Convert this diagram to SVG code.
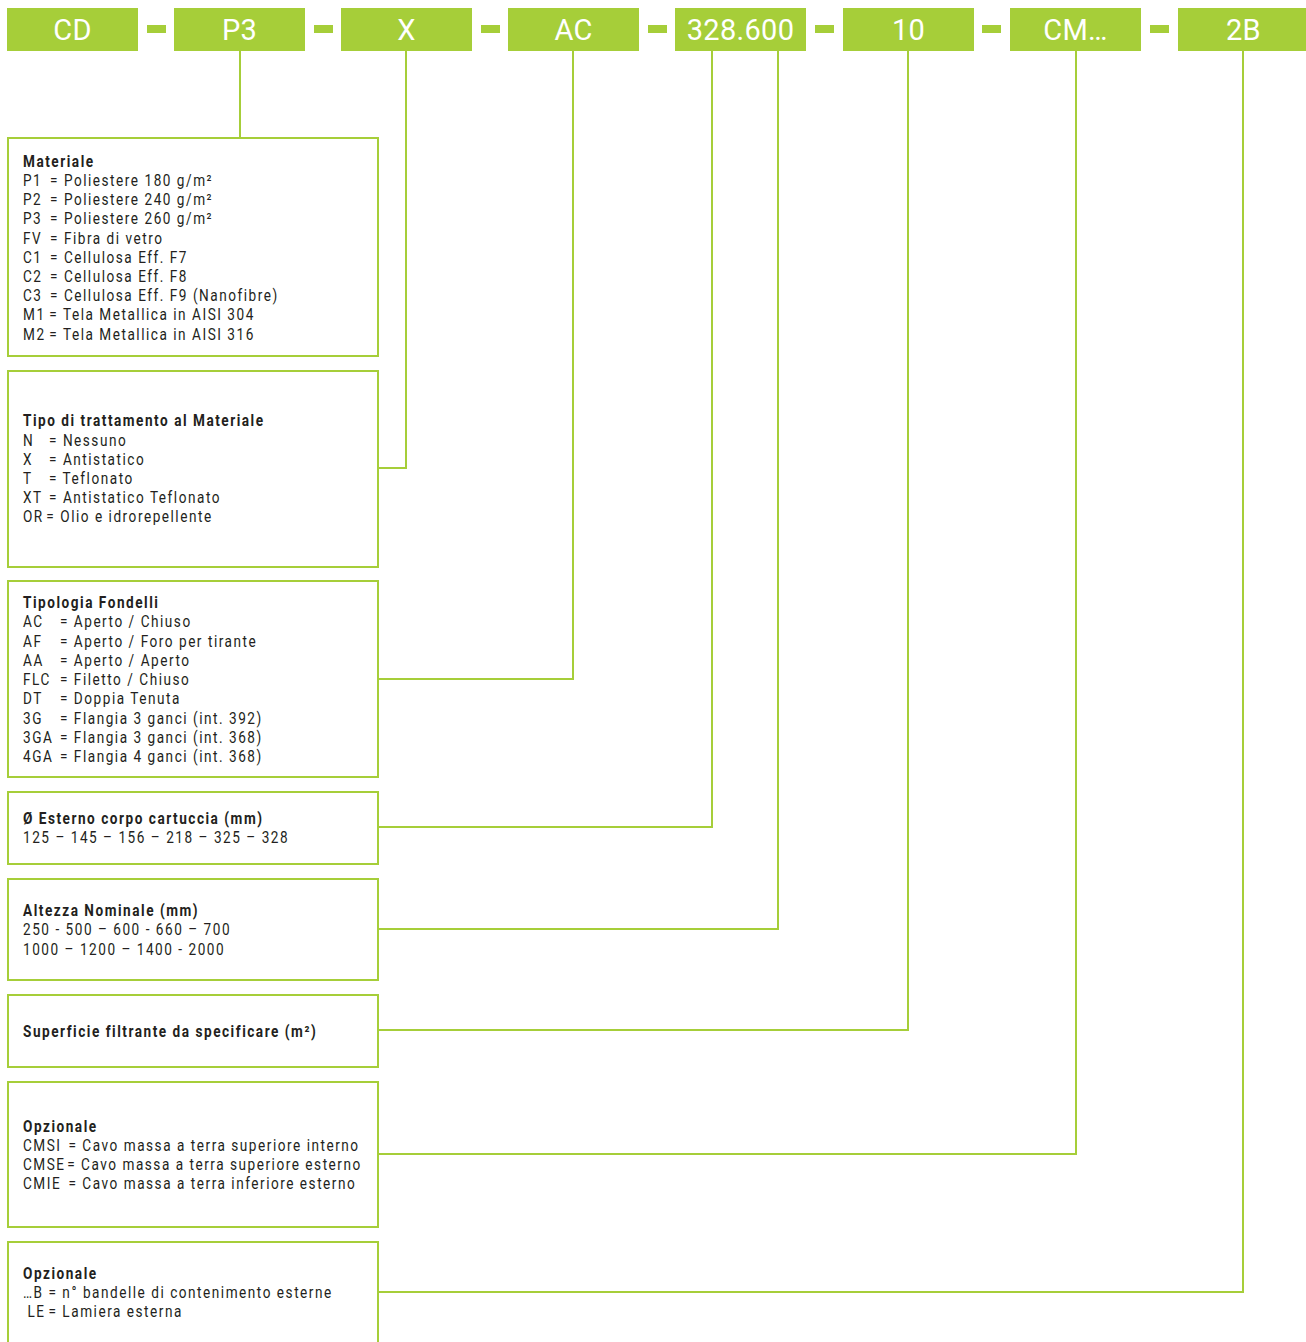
<svg xmlns="http://www.w3.org/2000/svg" width="1306" height="1342" viewBox="0 0 1306 1342">
<style>
.tag{fill:#a6ce39}
.tagt{fill:#fff;font-family:Roboto,"Liberation Sans",sans-serif;font-size:29px;text-anchor:middle;letter-spacing:0.3px}
.box{fill:#fff;stroke:#a6ce39;stroke-width:2}
.c{fill:none;stroke:#a6ce39;stroke-width:2}
.t{fill:#231f20;font-family:Roboto,"Liberation Sans",sans-serif;font-size:16px;letter-spacing:1.8px}
.b{font-weight:bold}
</style>
<rect width="1306" height="1342" fill="#fff"/>
<g id="code">
<g id="tag-cd"><rect class="tag" x="7" y="8" width="131" height="43"/><text class="tagt" x="72.5" y="40">CD</text></g>
<g id="tag-p3"><rect class="tag" x="174" y="8" width="131" height="43"/><text class="tagt" x="239.5" y="40">P3</text></g>
<g id="tag-x"><rect class="tag" x="341" y="8" width="131" height="43"/><text class="tagt" x="406.5" y="40">X</text></g>
<g id="tag-ac"><rect class="tag" x="508" y="8" width="131" height="43"/><text class="tagt" x="573.5" y="40">AC</text></g>
<g id="tag-328"><rect class="tag" x="675" y="8" width="131" height="43"/><text class="tagt" x="740.5" y="40">328.600</text></g>
<g id="tag-10"><rect class="tag" x="843" y="8" width="131" height="43"/><text class="tagt" x="908.5" y="40">10</text></g>
<g id="tag-cm"><rect class="tag" x="1010" y="8" width="131" height="43"/><text class="tagt" x="1075.5" y="40">CM…</text></g>
<g id="tag-2b"><rect class="tag" x="1178" y="8" width="131" height="43"/><text class="tagt" x="1243.5" y="40">2B</text></g>
<g id="dashes">
<rect class="tag" x="147" y="25" width="19" height="8"/>
<rect class="tag" x="314" y="25" width="19" height="8"/>
<rect class="tag" x="481" y="25" width="19" height="8"/>
<rect class="tag" x="648" y="25" width="19" height="8"/>
<rect class="tag" x="815" y="25" width="19" height="8"/>
<rect class="tag" x="982" y="25" width="19" height="8"/>
<rect class="tag" x="1150" y="25" width="19" height="8"/>
</g>
</g>
<g id="connectors">
<path class="c" d="M240 51V138"/>
<path class="c" d="M406 51V468H378"/>
<path class="c" d="M573 51V679H378"/>
<path class="c" d="M712 51V827H378"/>
<path class="c" d="M778 51V929H378"/>
<path class="c" d="M908 51V1030H378"/>
<path class="c" d="M1076 51V1154H378"/>
<path class="c" d="M1243 51V1292H378"/>
</g>
<g id="box-materiale"><rect class="box" x="8" y="138" width="370" height="218"/>
<text class="t" transform="matrix(0.85 0 0 1 3.45 0)">
<tspan class="b" x="23" y="167">Materiale</tspan>
<tspan x="23" y="186">P1</tspan><tspan x="54.8">= Poliestere 180 g/m²</tspan>
<tspan x="23" y="205">P2</tspan><tspan x="54.8">= Poliestere 240 g/m²</tspan>
<tspan x="23" y="224">P3</tspan><tspan x="54.8">= Poliestere 260 g/m²</tspan>
<tspan x="23" y="244">FV</tspan><tspan x="54.8">= Fibra di vetro</tspan>
<tspan x="23" y="263">C1</tspan><tspan x="54.8">= Cellulosa Eff. F7</tspan>
<tspan x="23" y="282">C2</tspan><tspan x="54.8">= Cellulosa Eff. F8</tspan>
<tspan x="23" y="301">C3</tspan><tspan x="54.8">= Cellulosa Eff. F9 (Nanofibre)</tspan>
<tspan x="23" y="320">M1</tspan><tspan x="54">= Tela Metallica in AISI 304</tspan>
<tspan x="23" y="340">M2</tspan><tspan x="54">= Tela Metallica in AISI 316</tspan>
</text></g>
<g id="box-trattamento"><rect class="box" x="8" y="371" width="370" height="196"/>
<text class="t" transform="matrix(0.85 0 0 1 3.45 0)">
<tspan class="b" x="23" y="426">Tipo di trattamento al Materiale</tspan>
<tspan x="23" y="446">N</tspan><tspan x="53.6">= Nessuno</tspan>
<tspan x="23" y="465">X</tspan><tspan x="53.6">= Antistatico</tspan>
<tspan x="23" y="484">T</tspan><tspan x="53.6">= Teflonato</tspan>
<tspan x="23" y="503">XT</tspan><tspan x="53.6">= Antistatico Teflonato</tspan>
<tspan x="23" y="522">OR</tspan><tspan x="50.5">= Olio e idrorepellente</tspan>
</text></g>
<g id="box-fondelli"><rect class="box" x="8" y="581" width="370" height="196"/>
<text class="t" transform="matrix(0.85 0 0 1 3.45 0)">
<tspan class="b" x="23" y="608">Tipologia Fondelli</tspan>
<tspan x="23" y="627">AC</tspan><tspan x="66.5">= Aperto / Chiuso</tspan>
<tspan x="23" y="647">AF</tspan><tspan x="66.5">= Aperto / Foro per tirante</tspan>
<tspan x="23" y="666">AA</tspan><tspan x="66.5">= Aperto / Aperto</tspan>
<tspan x="23" y="685">FLC</tspan><tspan x="66.5">= Filetto / Chiuso</tspan>
<tspan x="23" y="704">DT</tspan><tspan x="66.5">= Doppia Tenuta</tspan>
<tspan x="23" y="724">3G</tspan><tspan x="66.5">= Flangia 3 ganci (int. 392)</tspan>
<tspan x="23" y="743">3GA</tspan><tspan x="66.5">= Flangia 3 ganci (int. 368)</tspan>
<tspan x="23" y="762">4GA</tspan><tspan x="66.5">= Flangia 4 ganci (int. 368)</tspan>
</text></g>
<g id="box-diametro"><rect class="box" x="8" y="792" width="370" height="72"/>
<text class="t" transform="matrix(0.85 0 0 1 3.45 0)">
<tspan class="b" x="23" y="824">Ø Esterno corpo cartuccia (mm)</tspan>
<tspan x="23" y="843">125 – 145 – 156 – 218 – 325 – 328</tspan>
</text></g>
<g id="box-altezza"><rect class="box" x="8" y="879" width="370" height="101"/>
<text class="t" transform="matrix(0.85 0 0 1 3.45 0)">
<tspan class="b" x="23" y="916">Altezza Nominale (mm)</tspan>
<tspan x="23" y="935">250 - 500 – 600 - 660 – 700</tspan>
<tspan x="23" y="955">1000 – 1200 – 1400 - 2000</tspan>
</text></g>
<g id="box-superficie"><rect class="box" x="8" y="995" width="370" height="72"/>
<text class="t" transform="matrix(0.85 0 0 1 3.45 0)">
<tspan class="b" x="23" y="1037">Superficie filtrante da specificare (m²)</tspan>
</text></g>
<g id="box-opzionale-cm"><rect class="box" x="8" y="1082" width="370" height="145"/>
<text class="t" transform="matrix(0.85 0 0 1 3.45 0)">
<tspan class="b" x="23" y="1132">Opzionale</tspan>
<tspan x="23" y="1151">CMSI</tspan><tspan x="76.5">= Cavo massa a terra superiore interno</tspan>
<tspan x="23" y="1170">CMSE</tspan><tspan x="75">= Cavo massa a terra superiore esterno</tspan>
<tspan x="23" y="1189">CMIE</tspan><tspan x="76.5">= Cavo massa a terra inferiore esterno</tspan>
</text></g>
<g id="box-opzionale-b"><rect class="box" x="8" y="1242" width="370" height="110"/>
<text class="t" transform="matrix(0.85 0 0 1 3.45 0)">
<tspan class="b" x="23" y="1279">Opzionale</tspan>
<tspan x="23" y="1298">…B</tspan><tspan x="53">= n° bandelle di contenimento esterne</tspan>
<tspan x="28.3" y="1317">LE</tspan><tspan x="53">= Lamiera esterna</tspan>
</text></g>
</svg>
